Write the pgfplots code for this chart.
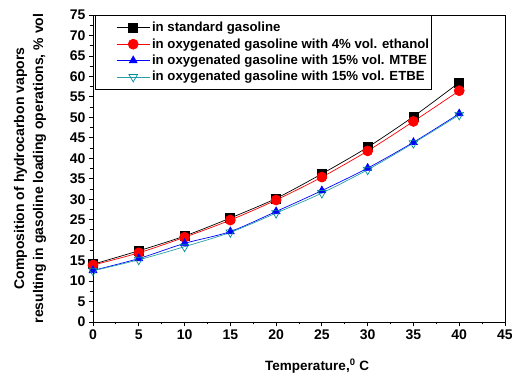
\documentclass[border=0pt]{standalone}
\usepackage{pgfplots}
\pgfplotsset{compat=1.18}
\usepackage{fontspec}
\setmainfont{Liberation Sans}
\definecolor{etbe}{RGB}{0,140,150}
\definecolor{etbeline}{RGB}{40,160,170}
\pgfplotsset{mylegend/.style={legend image code/.code={%
  \draw[white, opacity=0] (0pt,-1pt) rectangle (54pt,1pt);
  \draw[mark repeat=2,mark phase=2] plot coordinates {(21pt,0pt)(37.5pt,0pt)(54pt,0pt)};}}}
\begin{document}
\begin{tikzpicture}
\useasboundingbox (-93pt,-52pt) rectangle (419pt,322pt);
\begin{axis}[
  at={(0,0)}, anchor=south west,
  scale only axis,
  width=412pt, height=307pt,
  xmin=0, xmax=45, ymin=0, ymax=75,
  xtick={0,5,...,45}, ytick={0,5,...,75},
  minor tick num=1,
  tick pos=left, tick align=outside,
  major tick length=4pt, minor tick length=2.5pt,
  every tick/.style={black, line width=0.8pt},
  axis line style={line width=0.9pt},
  /pgf/number format/assume math mode=true,
  ticklabel style={font=\fontsize{14}{15}\selectfont\bfseries},
  xlabel={Temperature,\textsuperscript{0} C},
  ylabel={Composition of hydrocarbon vapors\\resulting in gasoline loading operations, \% vol},
  xlabel style={font=\fontsize{13.5}{15}\selectfont\bfseries, at={(axis description cs:0.544,-0.143)}, anchor=center},
  ylabel style={font=\fontsize{14}{19}\selectfont\bfseries, align=center, at={(axis description cs:-0.153,0.5)}, anchor=center},
  legend style={at={(0.005,1)}, anchor=north west, draw=black, line width=0.6pt,
    font=\fontsize{13.2}{14}\selectfont\bfseries, row sep=1.3pt, inner xsep=0pt, inner ysep=5pt,
    nodes={inner xsep=2pt}},
  legend cell align=left,
]
\addplot[mylegend, black, line width=0.7pt, smooth, mark=square*, mark size=4.5pt, mark options={solid}] coordinates {
(0,14.1) (5,17.4) (10,21.0) (15,25.4) (20,30.2) (25,36.2) (30,42.7) (35,50.2) (40,58.5)};
\addlegendentry{in standard gasoline}
\addplot[mylegend, red, line width=0.7pt, smooth, mark=*, mark size=5pt] coordinates {
(0,13.9) (5,16.9) (10,20.7) (15,24.9) (20,29.8) (25,35.4) (30,41.8) (35,49.0) (40,56.5)};
\addlegendentry{in oxygenated gasoline with 4\% vol. ethanol}
\addplot[mylegend, blue, line width=0.7pt, smooth, mark=triangle*, mark size=4.5pt] coordinates {
(0,12.6) (5,15.5) (10,19.2) (15,22.1) (20,27.0) (25,32.1) (30,37.6) (35,43.9) (40,50.9)};
\addlegendentry{in oxygenated gasoline with 15\% vol. MTBE}
\addplot[mylegend, etbeline, line width=0.7pt, smooth, mark=triangle, mark size=5pt, mark options={rotate=180, fill=white, draw=etbe}] coordinates {
(0,12.5) (5,15.2) (10,18.4) (15,21.9) (20,26.6) (25,31.5) (30,37.2) (35,43.7) (40,50.6)};
\addlegendentry{in oxygenated gasoline with 15\% vol. ETBE}
\end{axis}
\end{tikzpicture}
\end{document}
